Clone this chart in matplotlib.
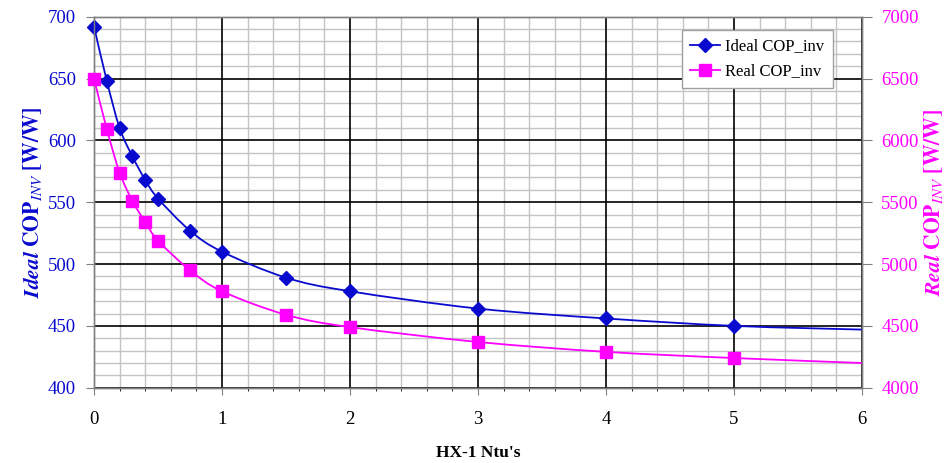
import numpy as np
import matplotlib
matplotlib.use("Agg")
import matplotlib.pyplot as plt
from matplotlib.path import Path
from matplotlib.patches import PathPatch
from matplotlib.lines import Line2D
from matplotlib.ticker import MultipleLocator

# data
ntu = [0, 0.1, 0.2, 0.3, 0.4, 0.5, 0.75, 1, 1.5, 2, 3, 4, 5, 6]
ideal_cop = [692, 648, 610, 587, 568, 553, 527, 510, 489, 478, 464, 456, 450, 447]
real_cop = [6500, 6090, 5740, 5510, 5340, 5190, 4950, 4780, 4590, 4490, 4370, 4290, 4240, 4200]
n_markers = 13  # last point (x=6) carries no marker

blue = "#0A0ACF"
magenta = "#FF00FF"

plt.rcParams['font.family'] = ['Liberation Serif', 'DejaVu Serif']
plt.rcParams['mathtext.fontset'] = 'stix'
fontsize = 13.5


def smooth_path(x, y):
    # excel-like smoothed line (catmull-rom as cubic bezier)
    x = np.asarray(x, float)
    y = np.asarray(y, float)
    n = len(x)
    verts = [(x[0], y[0])]
    codes = [Path.MOVETO]
    for i in range(n - 1):
        i0 = max(i - 1, 0)
        i3 = min(i + 2, n - 1)
        c1 = (x[i] + (x[i + 1] - x[i0]) / 6, y[i] + (y[i + 1] - y[i0]) / 6)
        c2 = (x[i + 1] - (x[i3] - x[i]) / 6, y[i + 1] - (y[i3] - y[i]) / 6)
        verts += [c1, c2, (x[i + 1], y[i + 1])]
        codes += [Path.CURVE4] * 3
    return Path(verts, codes)


rect = [0.0994, 0.1626, 0.8117, 0.8013]
fig = plt.figure(figsize=(9.46, 4.63), dpi=100)

# bottom axes only for the minor grid, so the major grid sits on top of it
gax = fig.add_axes(rect, zorder=0)
ax = fig.add_axes(rect, zorder=1, sharex=gax)
ax.patch.set_visible(False)
ax2 = ax.twinx()

gax.set_xlim(0, 6)
gax.set_ylim(400, 700)
ax.set_ylim(400, 700)
ax2.set_ylim(4000, 7000)

gax.xaxis.set_minor_locator(MultipleLocator(0.2))
gax.yaxis.set_minor_locator(MultipleLocator(10))
gax.grid(which='minor', color='#C4C4C4', linewidth=1.0)
gax.tick_params(which='both', length=0, labelleft=False, labelbottom=False)
for s in gax.spines.values():
    s.set_visible(False)

ax.xaxis.set_major_locator(MultipleLocator(1))
ax.yaxis.set_major_locator(MultipleLocator(50))
ax2.yaxis.set_major_locator(MultipleLocator(500))
ax.grid(which='major', color='black', linewidth=1.2)
ax.set_axisbelow(True)

for a in (ax, ax2):
    for s in a.spines.values():
        s.set_color('#808080')
        s.set_linewidth(1.0)

ax.tick_params(axis='x', which='major', labelsize=fontsize, colors='#808080',
               labelcolor='black', length=5, pad=12)
ax.tick_params(axis='y', which='major', labelsize=fontsize, colors='#808080',
               labelcolor=blue, length=6, pad=7)
ax2.tick_params(axis='y', which='major', labelsize=fontsize, colors='#808080',
                labelcolor=magenta, length=7, pad=7)

# lines
ax.add_patch(PathPatch(smooth_path(ntu, ideal_cop), fill=False, edgecolor=blue,
                       linewidth=1.3, zorder=3))
ax2.add_patch(PathPatch(smooth_path(ntu, real_cop), fill=False, edgecolor=magenta,
                        linewidth=1.3, zorder=3))

ax.plot(ntu[:n_markers], ideal_cop[:n_markers], linestyle='none', marker='D',
        markersize=7, color=blue, zorder=4, clip_on=False)
ax2.plot(ntu[:n_markers], real_cop[:n_markers], linestyle='none', marker='s',
         markersize=9, color=magenta, zorder=4, clip_on=False)

ax.set_xlabel("HX-1 Ntu's", fontsize=12.5, fontweight='bold', labelpad=12)
ax.set_ylabel(r"$\mathbfit{Ideal}$ $\mathbf{COP}_{\mathit{INV}}$ $\mathbf{[W/W]}$",
              fontsize=15.5, color=blue, labelpad=3)
ax2.set_ylabel(r"$\mathbfit{Real}$ $\mathbf{COP}_{\mathit{INV}}$ $\mathbf{[W/W]}$",
               fontsize=15.5, color=magenta, rotation=90, labelpad=2)

handles = [Line2D([], [], color=blue, marker='D', markersize=7, linewidth=1.3),
           Line2D([], [], color=magenta, marker='s', markersize=9, linewidth=1.3)]
leg = ax2.legend(handles, ["Ideal COP_inv", "Real COP_inv"], loc='upper right',
                 bbox_to_anchor=(0.962, 0.964), borderaxespad=0, fontsize=12,
                 fancybox=False, framealpha=1, edgecolor='#A0A0A0',
                 handlelength=1.8, handletextpad=0.3, borderpad=0.5,
                 labelspacing=0.55)
leg.get_frame().set_linewidth(1.0)

fig.savefig("out.png", dpi=100)
